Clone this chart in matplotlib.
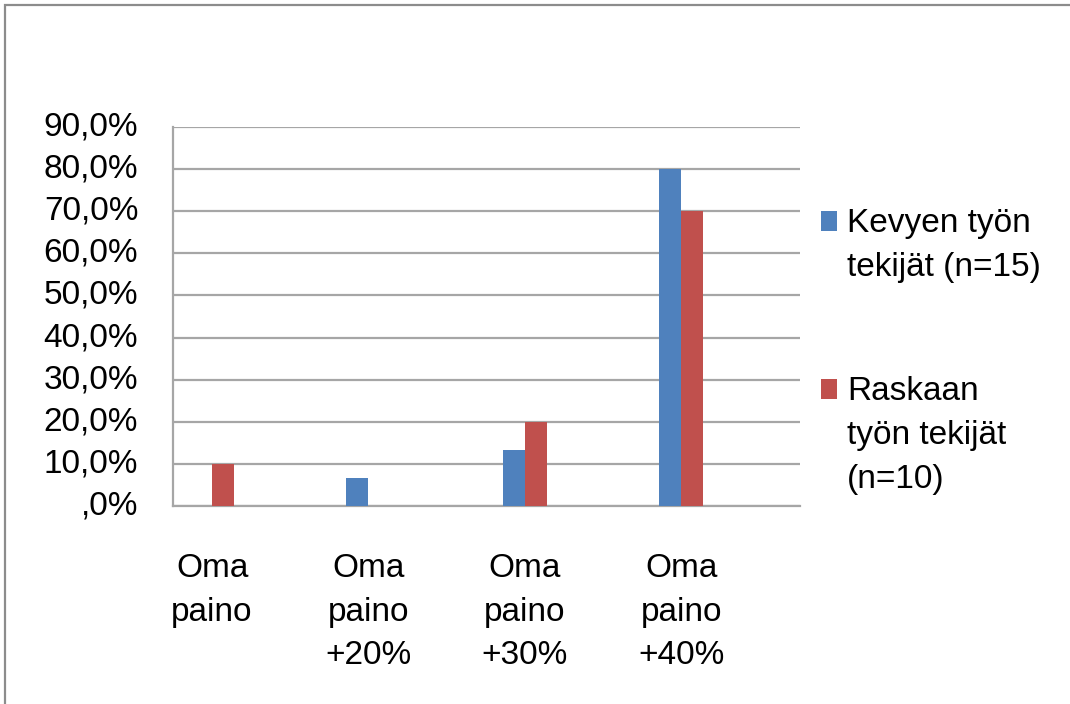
import matplotlib
matplotlib.use("Agg")
import matplotlib.pyplot as plt
from matplotlib.patches import Rectangle
import numpy as np

plt.rcParams['font.family'] = ['Liberation Sans', 'DejaVu Sans']

categories = ["Oma\npaino", "Oma\npaino\n+20%", "Oma\npaino\n+30%", "Oma\npaino\n+40%"]
series_names = ["Kevyen työn\ntekijät (n=15)", "Raskaan\ntyön tekijät\n(n=10)"]
kevyt = [0.0, 6.7, 13.3, 80.0]
raskas = [10.0, 0.0, 20.0, 70.0]
yticks = [0, 10, 20, 30, 40, 50, 60, 70, 80, 90]
ytick_labels = [",0%", "10,0%", "20,0%", "30,0%", "40,0%", "50,0%",
                "60,0%", "70,0%", "80,0%", "90,0%"]

colors = ["#4F81BD", "#C0504D"]
grid_col = "#A6A6A6"
fs = 24

W, H = 1070, 704
fig = plt.figure(figsize=(W / 100, H / 100), dpi=100)

# chart frame (top and left edges visible)
fig.patches.append(Rectangle((5 / W, -0.1), 1.2, 1 - 5 / H + 0.1,
                             transform=fig.transFigure, fill=False,
                             edgecolor="#8C8C8C", linewidth=1.6))

ax = fig.add_axes([173 / W, 1 - 506 / H, (800 - 173) / W, (506 - 127) / H])
x = np.arange(len(categories))
bw = 0.142
ax.bar(x - bw / 2, kevyt, bw, color=colors[0], zorder=3)
ax.bar(x + bw / 2, raskas, bw, color=colors[1], zorder=3)

ax.set_xlim(-0.25, 3.76)
ax.set_ylim(0, 90)
ax.set_yticks(yticks)
ax.set_yticklabels(ytick_labels, fontsize=fs)
ax.set_xticks(x)
ax.set_xticklabels(categories, fontsize=fs, linespacing=1.52, va="top")
ax.tick_params(axis="x", length=0, pad=34)
ax.tick_params(axis="y", length=0, pad=25)
for lab in ax.get_yticklabels():
    lab.set_verticalalignment("center")

ax.yaxis.grid(True, color=grid_col, linewidth=1.6, zorder=0)
ax.set_axisbelow(True)
for s in ["top", "right"]:
    ax.spines[s].set_visible(False)
for s in ["left", "bottom"]:
    ax.spines[s].set_color(grid_col)
    ax.spines[s].set_linewidth(1.6)

# legend drawn beside the plot area
legend_tops = [211, 379]
for name, col, top in zip(series_names, colors, legend_tops):
    fig.patches.append(Rectangle((821 / W, 1 - (top + 20) / H), 16 / W, 20 / H,
                                 transform=fig.transFigure, facecolor=col,
                                 edgecolor="none"))
    fig.text(847 / W, 1 - (top - 3) / H, name, fontsize=fs, va="top", ha="left",
             linespacing=1.55)

fig.savefig("out.png", dpi=100)
